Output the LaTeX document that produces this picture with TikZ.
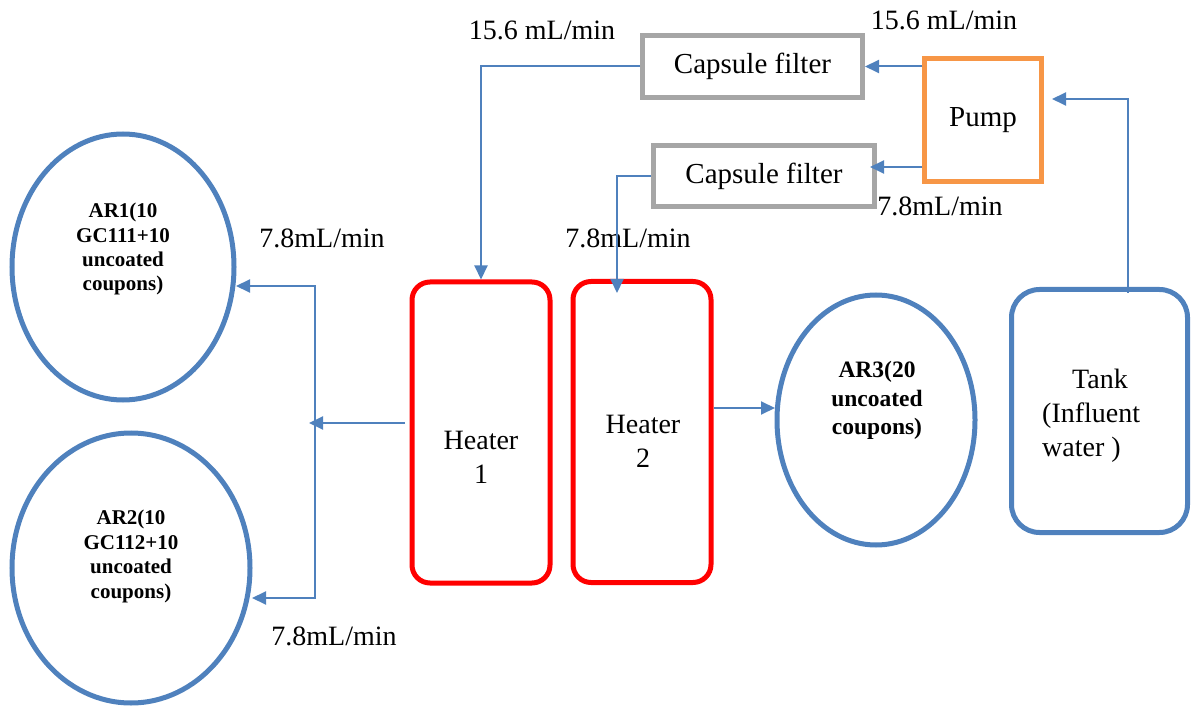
\documentclass[tikz,border=0pt]{standalone}
\usepackage{fontspec}
\setmainfont{Liberation Serif}
\usetikzlibrary{arrows.meta}
\definecolor{flowblue}{RGB}{79,129,189}
\definecolor{heatred}{RGB}{255,0,0}
\definecolor{filtergray}{RGB}{166,166,166}
\definecolor{pumporange}{RGB}{247,150,70}
\tikzset{
  flow/.style={draw=flowblue, line width=2pt, -{Triangle[length=14pt,width=13pt]}},
  flowboth/.style={draw=flowblue, line width=2pt, {Triangle[length=14pt,width=13pt]}-{Triangle[length=14pt,width=13pt]}},
  reactor/.style={ellipse, draw=flowblue, line width=5pt, inner sep=0pt},
  heaterbox/.style={rectangle, rounded corners=18pt, draw=heatred, line width=5pt, minimum width=138pt, minimum height=301pt, inner sep=0pt},
  filterbox/.style={rectangle, draw=filtergray, line width=5pt, inner sep=0pt, font=\fontsize{29}{32}\selectfont},
  pumpbox/.style={rectangle, draw=pumporange, line width=5pt, inner sep=0pt, font=\fontsize{29}{32}\selectfont},
  tankbox/.style={rectangle, rounded corners=28pt, draw=flowblue, line width=5pt, inner sep=0pt},
  ratelabel/.style={inner sep=0pt, font=\fontsize{28}{30}\selectfont},
  arlabel/.style={inner sep=0pt, align=center, anchor=base, font=\fontsize{21}{24.4}\selectfont\bfseries},
  plainlabel/.style={inner sep=0pt, anchor=base, font=\fontsize{28}{34}\selectfont},
}
\usetikzlibrary{shapes.geometric}
\begin{document}
\begin{tikzpicture}[x=1pt,y=-1pt]
\useasboundingbox (0,0) rectangle (1194,708);
% shapes
\node[reactor, minimum width=222pt, minimum height=266pt] (ar1) at (123,267) {};
\node[reactor, minimum width=238pt, minimum height=270pt] (ar2) at (131,568) {};
\node[reactor, minimum width=198pt, minimum height=250pt] (ar3) at (876,420) {};
\node[heaterbox] (heater1) at (481,432.5) {};
\node[heaterbox] (heater2) at (642,432) {};
\node[filterbox, minimum width=220pt, minimum height=62pt] (cf1) at (752.5,66.5) {Capsule filter};
\node[filterbox, minimum width=221pt, minimum height=61pt] (cf2) at (764,176) {Capsule filter};
\node[pumpbox, minimum width=117pt, minimum height=123pt] (pump) at (983,120) {Pump};
\node[tankbox, minimum width=176pt, minimum height=243pt] (tank) at (1099.5,411) {};
% texts in shapes (base = baseline of last line)
\node[arlabel] (ar1t) at (123,291) {AR1(10\\GC111+10\\uncoated\\coupons)};
\node[arlabel] (ar2t) at (131,598) {AR2(10\\GC112+10\\uncoated\\coupons)};
\node[arlabel, font=\fontsize{23.5}{28.5}\selectfont\bfseries] (ar3t) at (877,435) {AR3(20\\uncoated\\coupons)};
\node[plainlabel, align=center] (h1t) at (481,483) {Heater\\1};
\node[plainlabel, align=center] (h2t) at (643,467) {Heater\\2};
\node[plainlabel, align=left, anchor=base west] (tankt) at (1042,456) {\hspace*{30pt}Tank\\(Influent\\water )};
% rate labels
\node[ratelabel] (r1) at (542,30) {15.6 mL/min};
\node[ratelabel] (r2) at (944,20) {15.6 mL/min};
\node[ratelabel] (r3) at (940,206) {7.8mL/min};
\node[ratelabel] (r4) at (628,238) {7.8mL/min};
\node[ratelabel] (r5) at (322,238) {7.8mL/min};
\node[ratelabel] (r6) at (334,636) {7.8mL/min};
% coordinates
\coordinate (h2in) at (617,293);
\coordinate (p2out) at (922,167);
\coordinate (cf2in) at (870,167);
\coordinate (tankout) at (1128,293);
\coordinate (pumpin) at (1052,99);
\coordinate (h2out) at (714,408);
\coordinate (ar3in) at (775,408);
\coordinate (h1out) at (405,423);
\coordinate (junc) at (309,423);
\coordinate (ar1in) at (236,286);
\coordinate (ar2in) at (252,598);
\coordinate (jtop) at (315,286);
\coordinate (jbot) at (315,598);
% connectors
\draw[flow] (cf1.west) -| (heater1.north);
\draw[flow] (cf2.west) -| (h2in);
\draw[flow] (cf1.east -| pump.west) -- (cf1.east);
\draw[flow] (p2out) -- (cf2in);
\draw[flow] (tankout) |- (pumpin);
\draw[flow] (h2out) -- (ar3in);
\draw[flow] (h1out) -- (junc);
\draw[flowboth] (ar1in) -- (jtop) -- (jbot) -- (ar2in);
\end{tikzpicture}
\end{document}
